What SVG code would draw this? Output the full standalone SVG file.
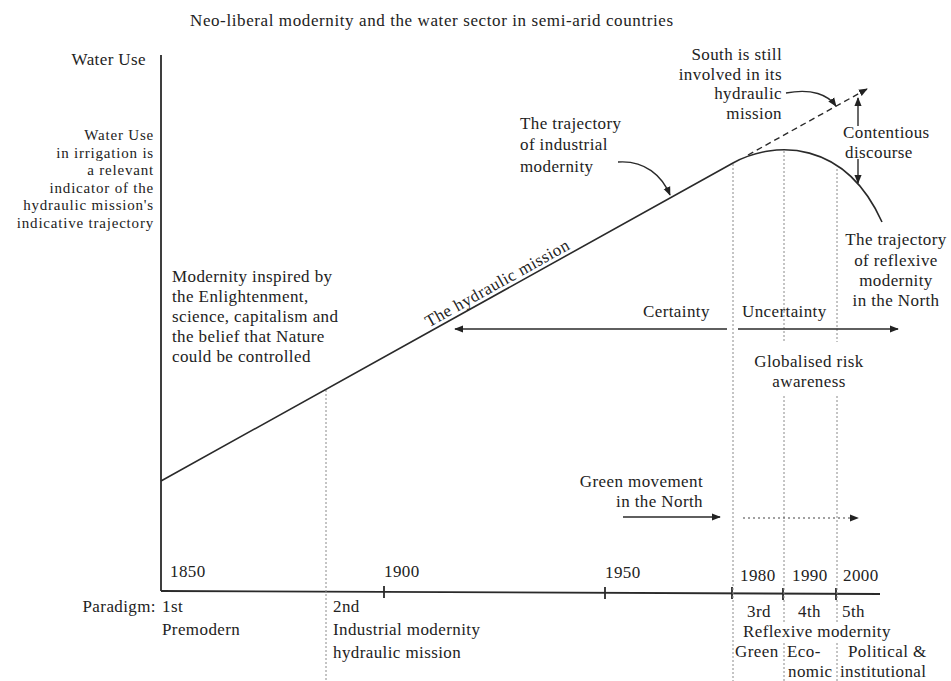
<svg xmlns="http://www.w3.org/2000/svg" width="951" height="681" viewBox="0 0 951 681">
<defs>
<marker id="ah" viewBox="0 0 10 10" refX="9" refY="5" markerWidth="9" markerHeight="9" markerUnits="userSpaceOnUse" orient="auto-start-reverse">
<path d="M0,1 L10,5 L0,9 z" fill="#222"/>
</marker>
<style>
.t{font-family:"Liberation Serif","DejaVu Serif",serif;font-size:17px;letter-spacing:0.4px;fill:#222;}
.s{font-size:15px;letter-spacing:0.8px;}
.r{text-anchor:end;}
.m{text-anchor:middle;}
.ax{stroke:#2a2a2a;stroke-width:1.8;fill:none;}
.ln{stroke:#2a2a2a;stroke-width:1.6;fill:none;}
.dot{stroke:#8a8a8a;stroke-width:1;stroke-dasharray:2 2;fill:none;}
.arr{stroke:#2a2a2a;stroke-width:1.4;fill:none;marker-end:url(#ah);}
.dash{stroke:#2a2a2a;stroke-width:1.4;fill:none;stroke-dasharray:6 4;marker-end:url(#ah);}
.dotarr{stroke:#444;stroke-width:1.2;fill:none;stroke-dasharray:2 3;marker-end:url(#ah);}
</style>
</defs>
<rect width="951" height="681" fill="#fff"/>

<g id="title"><text class="t" x="190" y="26" style="letter-spacing:0.6px">Neo-liberal modernity and the water sector in semi-arid countries</text></g>

<g id="axes">
<line class="ax" x1="161" y1="55" x2="161" y2="591"/>
<line class="ax" x1="161" y1="591" x2="880" y2="594"/>
<line class="ax" x1="384" y1="586" x2="384" y2="598"/>
<line class="ax" x1="605" y1="587" x2="605" y2="599"/>
<line class="ax" x1="732" y1="587" x2="732" y2="599"/>
<line class="ax" x1="783" y1="588" x2="783" y2="600"/>
<line class="ax" x1="836" y1="588" x2="836" y2="600"/>
</g>

<g id="gridlines">
<line class="dot" x1="326" y1="390" x2="326" y2="681"/>
<line class="dot" x1="733" y1="164" x2="733" y2="681"/>
<line class="dot" x1="784" y1="151" x2="784" y2="342"/>
<line class="dot" x1="784" y1="396" x2="784" y2="623"/>
<line class="dot" x1="784" y1="643" x2="784" y2="681"/>
<line class="dot" x1="837" y1="169" x2="837" y2="342"/>
<line class="dot" x1="837" y1="396" x2="837" y2="623"/>
<line class="dot" x1="837" y1="643" x2="837" y2="681"/>
</g>

<g id="connectors">
<path class="ln" d="M161,481 L733,163 C775,140 845,140 882,222"/>
<line class="dash" x1="748" y1="155" x2="867" y2="89"/>
<path class="arr" d="M618,162 C645,160 662,176 670,195"/>
<path class="arr" d="M786,93 C812,88 828,95 836,106"/>
<line class="arr" x1="858" y1="126" x2="858" y2="98"/>
<line class="arr" x1="858" y1="159" x2="858" y2="183"/>
<line class="arr" x1="727" y1="329" x2="455" y2="329"/>
<line class="arr" x1="738" y1="329" x2="898" y2="329"/>
<line class="arr" x1="623" y1="517" x2="720" y2="517"/>
<line class="dotarr" x1="743" y1="518" x2="858" y2="518"/>
</g>

<g id="yaxis-label"><text class="t r" x="146" y="65">Water Use</text></g>

<g id="indicator-label">
<text class="t s r" x="154" y="140">Water Use</text>
<text class="t s r" x="154" y="157.5">in irrigation is</text>
<text class="t s r" x="154" y="175">a relevant</text>
<text class="t s r" x="154" y="192.5">indicator of the</text>
<text class="t s r" x="154" y="210">hydraulic mission's</text>
<text class="t s r" x="154" y="227.5">indicative trajectory</text>
</g>

<g id="modernity-label">
<text class="t" x="172" y="282">Modernity inspired by</text>
<text class="t" x="172" y="302">the Enlightenment,</text>
<text class="t" x="172" y="322">science, capitalism and</text>
<text class="t" x="172" y="342">the belief that Nature</text>
<text class="t" x="172" y="362">could be controlled</text>
</g>

<g id="hydraulic-mission-label">
<text class="t m" transform="translate(500,288) rotate(-29.1)" style="letter-spacing:0.5px">The hydraulic mission</text>
</g>

<g id="industrial-label">
<text class="t" x="520" y="129">The trajectory</text>
<text class="t" x="520" y="150">of industrial</text>
<text class="t" x="520" y="172">modernity</text>
</g>

<g id="south-label">
<text class="t r" x="782" y="60">South is still</text>
<text class="t r" x="782" y="79.5">involved in its</text>
<text class="t r" x="782" y="99">hydraulic</text>
<text class="t r" x="782" y="118.5">mission</text>
</g>

<g id="contentious-label">
<text class="t" x="843" y="138">Contentious</text>
<text class="t" x="845" y="158">discourse</text>
</g>

<g id="reflexive-label">
<text class="t m" x="896" y="245">The trajectory</text>
<text class="t m" x="896" y="266">of reflexive</text>
<text class="t m" x="896" y="286">modernity</text>
<text class="t m" x="896" y="306">in the North</text>
</g>

<g id="certainty-label"><text class="t" x="643" y="317">Certainty</text></g>
<g id="uncertainty-label"><text class="t" x="742" y="317">Uncertainty</text></g>

<g id="risk-label">
<text class="t m" x="809" y="367">Globalised risk</text>
<text class="t m" x="809" y="387">awareness</text>
</g>

<g id="green-label">
<text class="t r" x="703" y="487">Green movement</text>
<text class="t r" x="703" y="507">in the North</text>
</g>

<g id="years">
<text class="t" x="170" y="577">1850</text>
<text class="t" x="384" y="577">1900</text>
<text class="t" x="605" y="578">1950</text>
<text class="t" x="740" y="581">1980</text>
<text class="t" x="792" y="581">1990</text>
<text class="t" x="843" y="581">2000</text>
</g>

<g id="paradigm-label"><text class="t r" x="156" y="612">Paradigm:</text></g>

<g id="paradigm-1">
<text class="t" x="162" y="612">1st</text>
<text class="t" x="162" y="635">Premodern</text>
</g>

<g id="paradigm-2">
<text class="t" x="333" y="612">2nd</text>
<text class="t" x="333" y="635">Industrial modernity</text>
<text class="t" x="333" y="658">hydraulic mission</text>
</g>

<g id="paradigm-3-5">
<text class="t" x="747" y="617">3rd</text>
<text class="t" x="798" y="617">4th</text>
<text class="t" x="842" y="617">5th</text>
<text class="t" x="743" y="637">Reflexive modernity</text>
<text class="t" x="735" y="657">Green</text>
<text class="t" x="787" y="657">Eco-</text>
<text class="t" x="788" y="677">nomic</text>
<text class="t" x="848" y="657">Political &amp;</text>
<text class="t" x="840" y="677">institutional</text>
</g>
</svg>
